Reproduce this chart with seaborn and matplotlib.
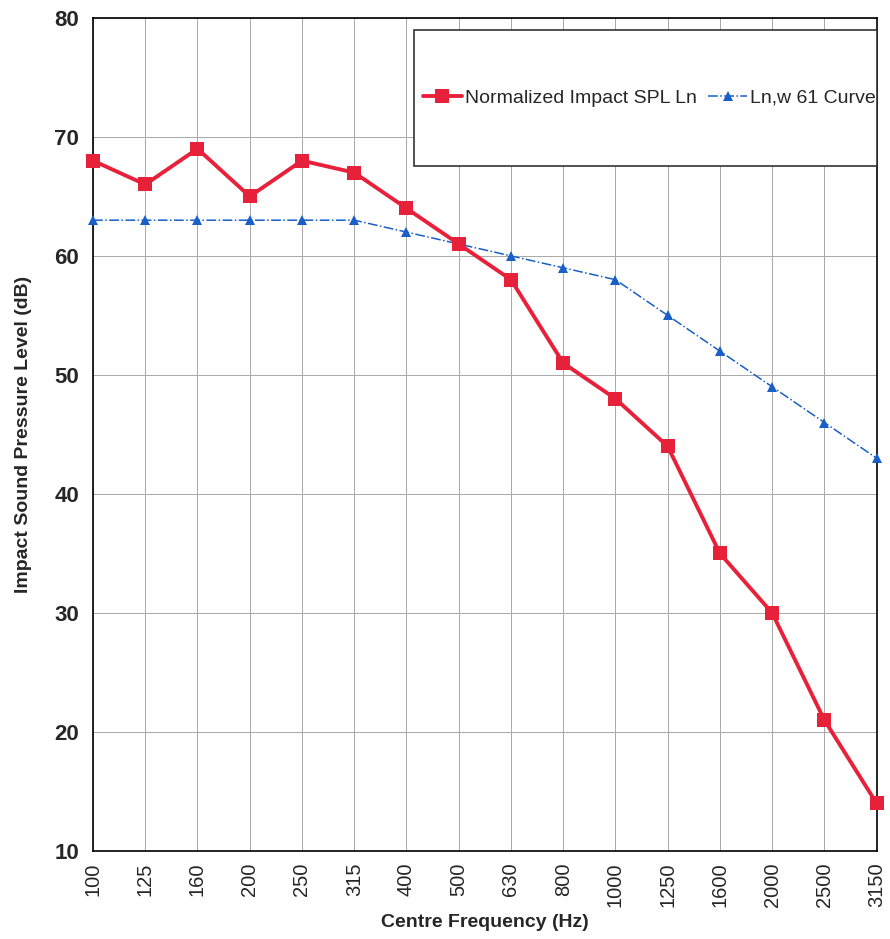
import pandas as pd
import seaborn as sns
import matplotlib.pyplot as plt
from matplotlib.patches import Rectangle

# data
freqs = ['100', '125', '160', '200', '250', '315', '400', '500', '630', '800',
         '1000', '1250', '1600', '2000', '2500', '3150']
ln_values = [68, 66, 69, 65, 68, 67, 64, 61, 58, 51, 48, 44, 35, 30, 21, 14]
ref_curve = [63, 63, 63, 63, 63, 63, 62, 61, 60, 59, 58, 55, 52, 49, 46, 43]

df = pd.DataFrame({'freq': freqs, 'ln': ln_values, 'ref': ref_curve})

sns.set_style('whitegrid')
plt.rcParams['font.family'] = ['Liberation Sans', 'DejaVu Sans']

fig = plt.figure(figsize=(8.9, 9.39), dpi=100)
ax = fig.add_axes([0.1045, 0.0937, 0.8805, 0.8873])

sns.lineplot(data=df, x='freq', y='ln', sort=False, ax=ax, color='#e8213a',
             linewidth=2.8, marker='s', markersize=10, markeredgewidth=0,
             label='Normalized Impact SPL Ln', clip_on=False, zorder=4)
sns.lineplot(data=df, x='freq', y='ref', sort=False, ax=ax, color='#1a5fc8',
             linewidth=1.1, linestyle='-.', marker='^', markersize=7,
             markeredgewidth=0, label='Ln,w 61 Curve', clip_on=False, zorder=3)

ax.set_ylim(10, 80)
ax.set_yticks(range(10, 81, 10))
ax.set_xlim(0, len(freqs) - 1)
ax.grid(True, color='#a8a8a8', linewidth=0.7)
for s in ax.spines.values():
    s.set_color('black')
    s.set_linewidth(1.2)

ax.tick_params(axis='x', labelrotation=90, labelsize=14.5, length=5, color='#555555', pad=3)
ax.tick_params(axis='y', labelsize=16, length=6, color='#555555', pad=4)
for t in ax.get_yticklabels():
    t.set_fontweight('bold')

ax.set_xlabel('Centre Frequency (Hz)', fontsize=14, fontweight='bold', labelpad=5)
ax.set_ylabel('Impact Sound Pressure Level (dB)', fontsize=14, fontweight='bold', labelpad=16)

# legend box
ax.add_patch(Rectangle((0.409, 0.822), 0.592, 0.164, transform=ax.transAxes,
                       facecolor='white', edgecolor='#333333', linewidth=1.2, zorder=5))
ax.legend(loc='center', bbox_to_anchor=(0.71, 0.904), ncol=2, frameon=False,
          fontsize=14, handlelength=2.0, handletextpad=0.15, columnspacing=0.6)
ax.get_legend().set_zorder(6)

fig.savefig('out.png', dpi=100)
